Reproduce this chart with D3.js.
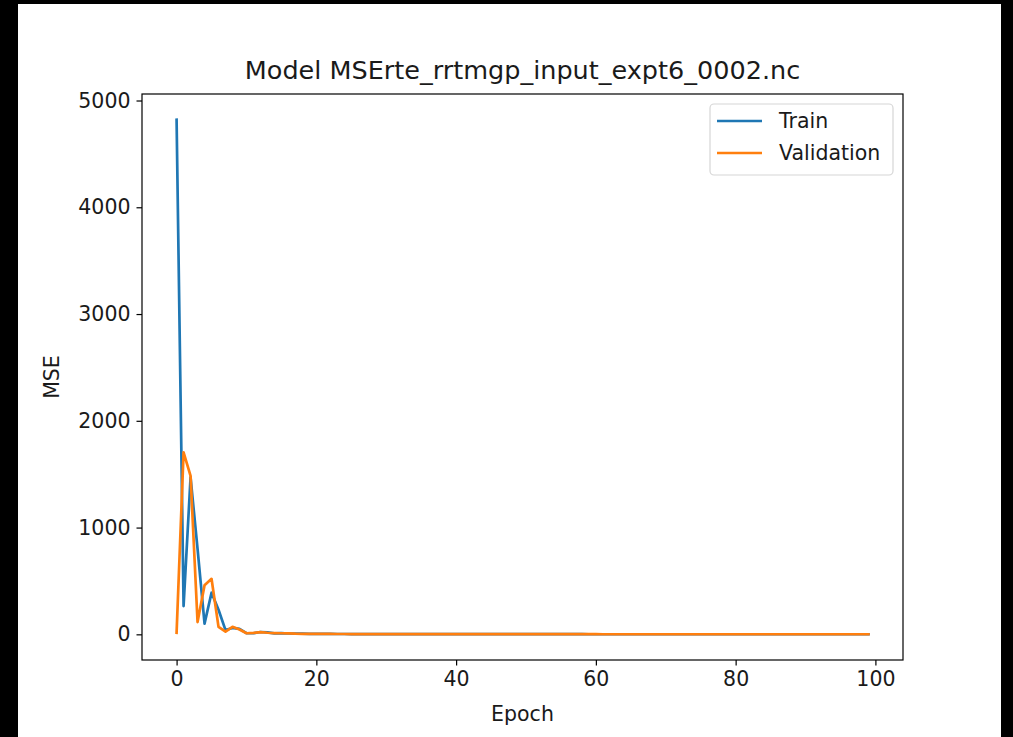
<!DOCTYPE html>
<html>
<head>
<meta charset="utf-8">
<script src="https://cdn.jsdelivr.net/npm/d3@7"></script>
<style>
  body { margin: 0; background: #000; }
  text { font-family: "DejaVu Sans", sans-serif; fill: #1a1a1a; }
</style>
</head>
<body>
<div id="chart"></div>
<script>
const width = 1013,
height = 737;

const title = "Model MSErte_rrtmgp_input_expt6_0002.nc"
const seriesNames = ["Train", "Validation"]
const colors = ["#1f77b4", "#ff7f0e"]

// loss per epoch
const train = [4820, 265, 1470, 800, 100, 390, 230, 40, 60, 52,
  12, 10, 22, 18, 9, 12, 8, 7, 6, 5,
  4.5, 4, 3.5, 3.2, 3, 2.8, 2.6, 2.5, 2.4, 2.2,
  2.1, 2, 2, 1.9, 1.8, 1.8, 1.7, 1.7, 1.6, 1.6,
  1.5, 1.5, 1.5, 1.4, 1.4, 1.4, 1.3, 1.3, 1.3, 1.3,
  1.2, 1.2, 1.2, 1.2, 1.1, 1.1, 1.1, 1.1, 1.1, 1.0,
  1.0, 1.0, 1.0, 1.0, 1.0, 0.9, 0.9, 0.9, 0.9, 0.9,
  0.9, 0.9, 0.9, 0.8, 0.8, 0.8, 0.8, 0.8, 0.8, 0.8,
  0.8, 0.8, 0.7, 0.7, 0.7, 0.7, 0.7, 0.7, 0.7, 0.7,
  0.7, 0.7, 0.7, 0.6, 0.6, 0.6, 0.6, 0.6, 0.6, 0.6]
const validation = [15, 1705, 1485, 115, 460, 520, 70, 25, 70, 45,
  10, 14, 20, 15, 12, 10, 9, 6, 5, 5,
  4, 4, 3.6, 3.2, 3.1, 2.9, 2.7, 2.6, 2.4, 2.3,
  2.2, 2.1, 2, 2, 1.9, 1.8, 1.8, 1.7, 1.7, 1.6,
  1.6, 1.6, 1.5, 1.5, 1.5, 1.4, 1.4, 1.4, 1.3, 1.3,
  1.3, 1.3, 1.2, 1.2, 1.2, 1.2, 1.1, 1.1, 1.1, 1.1,
  1.1, 1.0, 1.0, 1.0, 1.0, 1.0, 1.0, 0.9, 0.9, 0.9,
  0.9, 0.9, 0.9, 0.9, 0.9, 0.8, 0.8, 0.8, 0.8, 0.8,
  0.8, 0.8, 0.8, 0.8, 0.8, 0.7, 0.7, 0.7, 0.7, 0.7,
  0.7, 0.7, 0.7, 0.7, 0.7, 0.7, 0.6, 0.6, 0.6, 0.6]
const xTicks = [0, 20, 40, 60, 80, 100]
const yTicks = [0, 1000, 2000, 3000, 4000, 5000]

const plot = {left: 142, right: 903, top: 94, bottom: 660}

const svg = d3.select("#chart")
  .append("svg")
  .attr("width", width)
  .attr("height", height)

svg.append("rect").attr("width", width).attr("height", height).attr("fill", "#000")
svg.append("rect")
  .attr("x", 18).attr("y", 4)
  .attr("width", 983).attr("height", 733)
  .attr("fill", "#fff")

// matplotlib style 5% margins
const n = train.length
const xSpan = n - 1
const all = train.concat(validation)
const yMin = d3.min(all), yMax = d3.max(all)
const ySpan = yMax - yMin

const x = d3.scaleLinear()
  .domain([-0.05 * xSpan, xSpan * 1.05])
  .range([plot.left, plot.right])
const y = d3.scaleLinear()
  .domain([yMin - 0.05 * ySpan, yMax + 0.05 * ySpan])
  .range([plot.bottom, plot.top])

const xAxis = svg.append("g")
  .attr("transform", `translate(0,${plot.bottom})`)
  .call(d3.axisBottom(x).tickValues(xTicks).tickSize(5.5).tickPadding(6).tickFormat(d3.format("d")))
const yAxis = svg.append("g")
  .attr("transform", `translate(${plot.left},0)`)
  .call(d3.axisLeft(y).tickValues(yTicks).tickSize(5.5).tickPadding(6).tickFormat(d3.format("d")))

for (const ax of [xAxis, yAxis]) {
  ax.select(".domain").remove()
  ax.selectAll("line").attr("stroke", "#000").attr("stroke-width", 1.2)
  ax.selectAll("text").style("font-size", "20.5px").attr("fill", "#1a1a1a")
}

const line = d3.line()
  .x((d, i) => x(i))
  .y(d => y(d))

svg.selectAll("path.series")
  .data([train, validation])
  .join("path")
  .attr("class", "series")
  .attr("d", line)
  .attr("fill", "none")
  .attr("stroke", (d, i) => colors[i])
  .attr("stroke-width", 2.7)
  .attr("stroke-linejoin", "round")
  .attr("stroke-linecap", "square")

// frame
svg.append("rect")
  .attr("x", plot.left).attr("y", plot.top)
  .attr("width", plot.right - plot.left).attr("height", plot.bottom - plot.top)
  .attr("fill", "none").attr("stroke", "#000").attr("stroke-width", 1.2)

svg.append("text")
  .attr("x", (plot.left + plot.right) / 2).attr("y", 79)
  .attr("text-anchor", "middle")
  .style("font-size", "25.5px")
  .text(title)

svg.append("text")
  .attr("x", (plot.left + plot.right) / 2).attr("y", 721)
  .attr("text-anchor", "middle")
  .style("font-size", "20.5px")
  .text("Epoch")

svg.append("text")
  .attr("transform", `translate(59,${(plot.top + plot.bottom) / 2}) rotate(-90)`)
  .attr("text-anchor", "middle")
  .style("font-size", "20.5px")
  .text("MSE")

// legend
const legend = svg.append("g")
legend.append("rect")
  .attr("x", 710).attr("y", 104)
  .attr("width", 183).attr("height", 71)
  .attr("rx", 4)
  .attr("fill", "#fff").attr("stroke", "#d6d6d6").attr("stroke-width", 1.2)

const items = legend.selectAll("g.item")
  .data(seriesNames)
  .join("g")
  .attr("class", "item")
  .attr("transform", (d, i) => `translate(717,${121 + i * 32})`)
items.append("line")
  .attr("x1", 0).attr("x2", 45)
  .attr("stroke", (d, i) => colors[i])
  .attr("stroke-width", 2.7)
items.append("text")
  .attr("x", 62).attr("dy", "0.35em")
  .style("font-size", "20.5px")
  .text(d => d)
</script>
</body>
</html>
